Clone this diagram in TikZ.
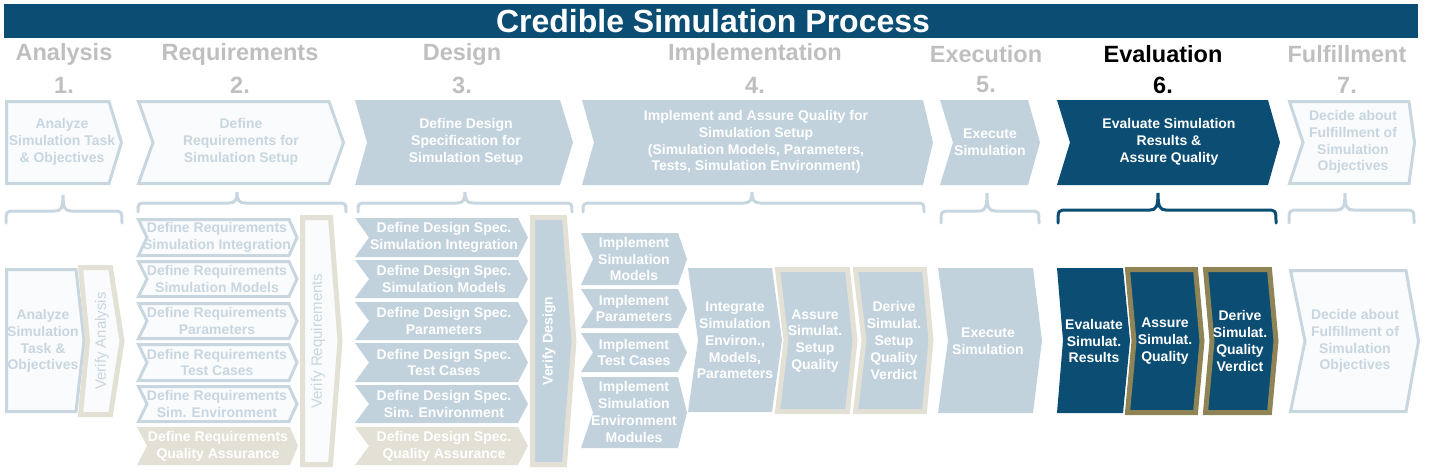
\documentclass[tikz,border=0pt]{standalone}
\usepackage{fontspec}
\setmainfont{Liberation Sans}
\definecolor{dkblue}{RGB}{11,77,115}
\definecolor{ltfill}{RGB}{194,210,221}
\definecolor{outl}{RGB}{200,214,224}
\definecolor{pale}{RGB}{250,251,252}
\definecolor{beige}{RGB}{227,224,213}
\definecolor{olive}{RGB}{142,132,85}
\definecolor{hgray}{RGB}{191,191,191}
\newcommand\mychev[7]{% style, x1, notch, x2, tip, ytop, ybot
  \pgfmathsetmacro\ymid{(#6+#7)/2}
  \draw[#1] (#2,#6) -- (#4,#6) -- (#5,\ymid) -- (#4,#7) -- (#2,#7) -- (#3,\ymid) -- cycle;
}
\newcommand\mybrace[7]{% style, xl, xm, xr, ytip, yh, yend
  \draw[#1] (#2,#7) .. controls (#2,#6) .. ($(#2,#6)+(10,0)$) -- ($(#3,#6)+(-8,0)$)
    .. controls ($(#3,#6)+(-2,0)$) and ($(#3,#6)+(0,-3)$) .. (#3,#5)
    .. controls ($(#3,#6)+(0,-3)$) and ($(#3,#6)+(2,0)$) .. ($(#3,#6)+(8,0)$)
    -- ($(#4,#6)+(-10,0)$) .. controls (#4,#6) .. (#4,#7);
}
\usetikzlibrary{calc}
\tikzset{
  outlbox/.style={draw=outl,line width=3pt,fill=pale,line join=miter},
  filbox/.style={fill=ltfill,draw=none},
  dkbox/.style={fill=dkblue,draw=none},
  beigebox/.style={fill=beige,draw=none},
  bvbox/.style={draw=beige,line width=5pt,fill=#1,line join=miter},
  obox/.style={draw=olive,line width=5pt,fill=dkblue,line join=miter},
  brc/.style={draw=outl,line width=3pt,line cap=round},
  txt/.style={align=center,font=\fontsize{14}{16.8}\selectfont\bfseries,inner sep=0pt},
  otxt/.style={txt,text=outl},
  wtxt/.style={txt,text=white},
  head/.style={font=\fontsize{23.5}{26}\selectfont\bfseries,text=hgray,inner sep=0pt},
}
\begin{document}
\begin{tikzpicture}[x=1pt,y=-1pt]
\useasboundingbox (0,0) rectangle (1430,475);
% title
\fill[dkblue] (4,4) rectangle (1418,38);
\node[font=\fontsize{32}{34}\selectfont\bfseries,text=white,inner sep=0pt] (title) at (713,21) {Credible Simulation Process};
% headers
\node[head] (h1) at (64,54) {Analysis};
\node[head] (n1) at (64,85) {1.};
\node[head] (h2) at (240,54) {Requirements};
\node[head] (n2) at (240,85) {2.};
\node[head] (h3) at (462,54) {Design};
\node[head] (n3) at (462,85) {3.};
\node[head] (h4) at (755,54) {Implementation};
\node[head] (n4) at (755,85) {4.};
\node[head] (h5) at (986,54) {Execution};
\node[head] (n5) at (986,85) {5.};
\node[head,text=black] (h6) at (1163,54) {Evaluation};
\node[head,text=black] (n6) at (1163,85) {6.};
\node[head] (h7) at (1347,54) {Fulfillment};
\node[head] (n7) at (1347,85) {7.};
% top chevrons
\mychev{outlbox}{6.5}{6.5}{109}{121.5}{101.5}{183.5}
\node[otxt] (t1) at (62,142) {Analyze\\Simulation Task\\\& Objectives};
\mychev{outlbox}{138.5}{153}{329}{343.5}{101.5}{183.5}
\node[otxt] (t2) at (241,142) {Define\\Requirements for\\Simulation Setup};
\mychev{filbox}{355}{367}{560}{573}{100}{185}
\node[wtxt] (t3) at (466,142) {Define Design\\Specification for\\Simulation Setup};
\mychev{filbox}{582}{594}{923}{933}{100}{185}
\node[wtxt] (t4) at (756,142) {Implement and Assure Quality for\\Simulation Setup\\(Simulation Models, Parameters,\\Tests, Simulation Environment)};
\mychev{filbox}{940}{953}{1028}{1040}{100}{185}
\node[wtxt] (t5) at (990,142) {Execute\\Simulation};
\mychev{dkbox}{1057}{1070}{1268}{1280}{100}{185}
\node[wtxt] (t6) at (1169,142) {Evaluate Simulation\\Results \&\\Assure Quality};
\mychev{outlbox}{1289.5}{1303}{1409}{1414.5}{101.5}{183.5}
\node[otxt] (t7) at (1353,142) {Decide about\\Fulfillment of\\Simulation\\Objectives};
% braces
\mybrace{brc}{6}{63}{122}{195}{211}{223}
\mybrace{brc}{138}{237}{346}{192}{203}{212}
\mybrace{brc}{358}{465}{572}{192}{203}{212}
\mybrace{brc}{583}{752}{924}{192}{203}{212}
\mybrace{brc}{941}{987}{1039}{193}{211}{223}
\mybrace{brc,draw=dkblue}{1058}{1158}{1276}{193}{210}{223}
\mybrace{brc}{1289}{1345}{1414}{193}{210}{223}
% section 1
\mychev{outlbox}{6.5}{6.5}{76}{84}{269.5}{411.5}
\node[otxt] (a1) at (43,341) {Analyze\\Simulation\\Task \&\\Objectives};
\mychev{bvbox=pale}{80.5}{87.5}{110.5}{122}{267.5}{414.5}
\node[otxt,font=\fontsize{15}{17}\selectfont,rotate=90] (va) at (102,341) {Verify Analysis};
% section 2
\mychev{outlbox}{138.5}{147}{289}{297}{219.5}{255.5}
\node[otxt] (r1) at (217,237.5) {Define Requirements\\Simulation Integration};
\mychev{outlbox}{138.5}{147}{289}{297}{261.5}{296.5}
\node[otxt] (r2) at (217,279) {Define Requirements\\Simulation Models};
\mychev{outlbox}{138.5}{147}{289}{297}{303.5}{338.5}
\node[otxt] (r3) at (217,321) {Define Requirements\\Parameters};
\mychev{outlbox}{138.5}{147}{289}{297}{344.5}{380.5}
\node[otxt] (r4) at (217,362.5) {Define Requirements\\Test Cases};
\mychev{outlbox}{138.5}{147}{289}{297}{386.5}{421.5}
\node[otxt] (r5) at (217,404) {Define Requirements\\Sim. Environment};
\mychev{beigebox}{137}{147}{290}{298}{427}{465}
\node[wtxt] (r6) at (218,446) {Define Requirements\\Quality Assurance};
\mychev{bvbox=pale}{302.5}{302.5}{330.5}{340}{217.5}{464.5}
\node[otxt,font=\fontsize{15}{17}\selectfont,rotate=90] (vr) at (318,341) {Verify Requirements};
% section 3
\mychev{filbox}{355}{369}{518}{528}{218}{257}
\node[wtxt] (d1) at (444,237.5) {Define Design Spec.\\Simulation Integration};
\mychev{filbox}{355}{369}{518}{528}{260}{298}
\node[wtxt] (d2) at (444,279) {Define Design Spec.\\Simulation Models};
\mychev{filbox}{355}{369}{518}{528}{302}{340}
\node[wtxt] (d3) at (444,321) {Define Design Spec.\\Parameters};
\mychev{filbox}{355}{369}{518}{528}{343}{382}
\node[wtxt] (d4) at (444,362.5) {Define Design Spec.\\Test Cases};
\mychev{filbox}{355}{369}{518}{528}{385}{423}
\node[wtxt] (d5) at (444,404) {Define Design Spec.\\Sim. Environment};
\mychev{beigebox}{355}{369}{518}{528}{427}{465}
\node[wtxt] (d6) at (444,446) {Define Design Spec.\\Quality Assurance};
\mychev{bvbox=ltfill}{532.5}{532.5}{564.5}{574}{217.5}{464.5}
\node[wtxt,font=\fontsize{14}{16}\selectfont\bfseries,rotate=90] (vd) at (549,341) {Verify Design};
% section 4
\mychev{filbox}{581}{593}{678}{687}{233}{285}
\node[wtxt] (i1) at (634,259) {Implement\\Simulation\\Models};
\mychev{filbox}{581}{593}{678}{687}{289}{328}
\node[wtxt] (i2) at (634,308.5) {Implement\\Parameters};
\mychev{filbox}{581}{593}{678}{687}{333}{372}
\node[wtxt] (i3) at (634,352.5) {Implement\\Test Cases};
\mychev{filbox}{581}{593}{678}{687}{377}{448}
\node[wtxt] (i4) at (634,412) {Implement\\Simulation\\Environment\\Modules};
\mychev{filbox}{688}{698}{772}{782}{268}{412}
\node[wtxt] (ig) at (735,340.5) {Integrate\\Simulation\\Environ.,\\Models,\\Parameters};
\mychev{bvbox=ltfill}{777.5}{786}{847.5}{855}{269.5}{411.5}
\node[wtxt] (as) at (815,341) {Assure\\Simulat.\\Setup\\Quality};
\mychev{bvbox=ltfill}{855.5}{864}{924.5}{931}{269.5}{411.5}
\node[wtxt] (dv) at (894,340.5) {Derive\\Simulat.\\Setup\\Quality\\Verdict};
% section 5
\mychev{filbox}{938}{948}{1033}{1042}{268}{413}
\node[wtxt] (ex) at (988,341) {Execute\\Simulation};
% section 6
\mychev{dkbox}{1057}{1063}{1123}{1130}{268}{413}
\node[wtxt] (ev) at (1094,341) {Evaluate\\Simulat.\\Results};
\mychev{obox}{1127.5}{1134}{1195.5}{1202}{269.5}{412.5}
\node[wtxt] (aq) at (1165,341) {Assure\\Simulat.\\Quality};
\mychev{obox}{1205.5}{1212}{1269.5}{1276}{269.5}{412.5}
\node[wtxt] (dq) at (1240,341) {Derive\\Simulat.\\Quality\\Verdict};
% section 7
\mychev{outlbox}{1290.5}{1305}{1406}{1418.5}{270.5}{411.5}
\node[otxt] (de) at (1355,341) {Decide about\\Fulfillment of\\Simulation\\Objectives};
\end{tikzpicture}
\end{document}
